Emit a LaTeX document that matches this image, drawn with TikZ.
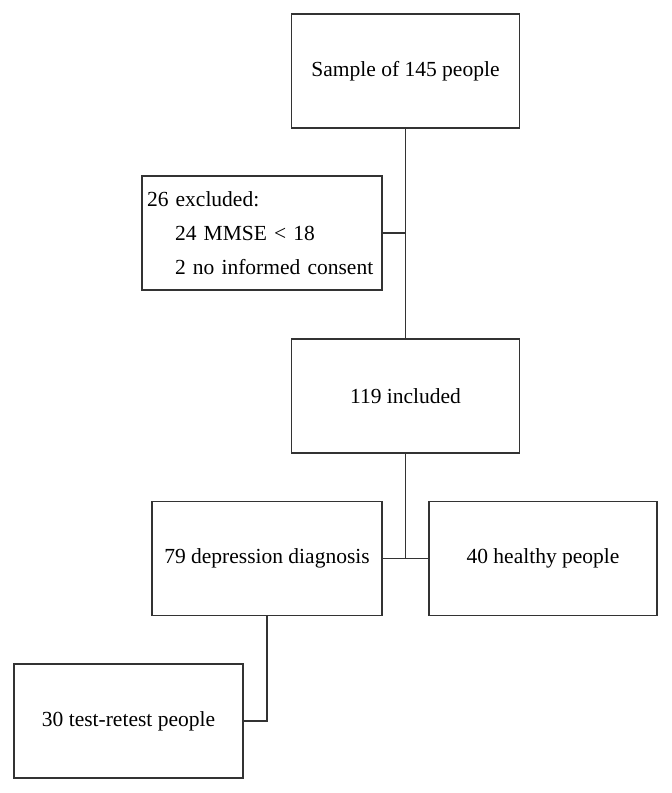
\documentclass[tikz,border=0pt]{standalone}
\usepackage{fontspec}
\setmainfont{Liberation Serif}
\usepackage{tikz}
\usetikzlibrary{positioning,calc}
\definecolor{lineGray}{RGB}{51, 51, 51}

\tikzset{
  flowbox/.style={draw=lineGray, line width=1.6pt, minimum width=228pt, minimum height=114pt,
    font=\fontsize{21.5}{25}\selectfont, inner sep=4pt},
  link/.style={draw=lineGray, line width=1.6pt}
}

\begin{document}
\begin{tikzpicture}[x=1pt,y=-1pt]
  \useasboundingbox (0,0) rectangle (672,793);

  % boxes
  \node[flowbox] (sample) at (405.5,71) {Sample of 145 people};
  \node[flowbox, minimum width=240pt, text width=230pt, align=left, inner xsep=5pt,
        font=\fontsize{21.5}{34}\selectfont] (excluded) at (262,233)
    {26 excluded:\\ \hspace*{28pt}24 MMSE < 18\\ \hspace*{28pt}2 no informed consent};
  \node[flowbox] (included) at (405.5,396) {119 included};
  \node[flowbox, minimum width=230pt] (depression) at (267,558.5) {79 depression diagnosis};
  \node[flowbox] (healthy) at (543,558.5) {40 healthy people};
  \node[flowbox, minimum width=229pt] (retest) at (128.5,721) {30 test-retest people};

  % connectors
  \draw[link] (sample.south) -- (included.north);
  \draw[link] (excluded.east) -- (excluded.east -| sample.south);
  \draw[link] (included.south) -- (included.south |- depression.east);
  \draw[link] (depression.east) -- (healthy.west);
  \draw[link] (depression.south) |- (retest.east);
\end{tikzpicture}
\end{document}
